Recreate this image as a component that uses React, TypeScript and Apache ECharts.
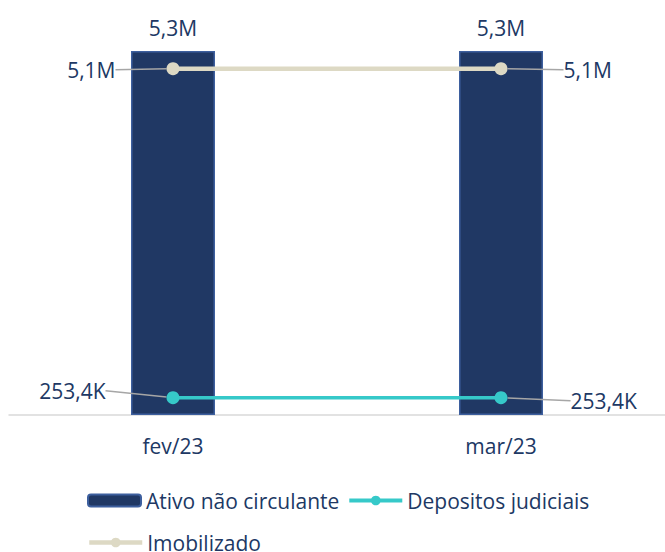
import React, { useEffect, useRef } from "react";
import * as echarts from "echarts";

const categories = ["fev/23", "mar/23"];
const ativoNaoCirculante = [5340000, 5340000];
const depositosJudiciais = [253400, 253400];
const imobilizado = [5080000, 5080000];

const NAVY = "#203864";
const FONT = "'Open Sans', sans-serif";

const fmt = (v: number) => {
  if (Math.abs(v) >= 1e6) return (v / 1e6).toFixed(1).replace(".", ",") + "M";
  if (Math.abs(v) >= 1e3) return (v / 1e3).toFixed(1).replace(".", ",") + "K";
  return String(v);
};

export default function App() {
  const ref = useRef<HTMLDivElement>(null);
  useEffect(() => {
    if (!ref.current) return;
    const chart = echarts.init(ref.current, undefined, { renderer: "svg" });
    const labelText = { color: NAVY, fontFamily: FONT, fontSize: 21 };
    const legendBase = {
      left: 87,
      padding: 0,
      itemWidth: 53,
      itemHeight: 12,
      itemGap: 8,
      textStyle: { ...labelText, lineHeight: 20 },
    };
    chart.setOption({
      animation: false,
      textStyle: { fontFamily: FONT },
      grid: { left: 9, width: 660, top: 51, height: 364, containLabel: false },
      legend: [
        {
          ...legendBase,
          top: 490,
          data: [
            { name: "Ativo não circulante" },
            { name: "Depositos judiciais", lineStyle: { width: 4 }, itemStyle: { color: "#36c9c9" } },
          ],
        },
        {
          ...legendBase,
          top: 532,
          data: [{ name: "Imobilizado", lineStyle: { width: 4.5 }, itemStyle: { color: "#ddd9c4" } }],
        },
      ],
      xAxis: {
        type: "category",
        data: categories,
        axisLine: { lineStyle: { color: "#d9d9d9", width: 1.5 } },
        axisTick: { show: false },
        axisLabel: { ...labelText, margin: 20 },
      },
      yAxis: {
        type: "value",
        min: 0,
        max: 5340000,
        show: false,
        splitLine: { show: false },
      },
      series: [
        {
          name: "Ativo não circulante",
          type: "bar",
          data: ativoNaoCirculante,
          barWidth: 84,
          itemStyle: { color: NAVY, borderColor: "#3d5f9e", borderWidth: 1.5 },
          label: {
            show: true,
            position: "top",
            distance: 13,
            ...labelText,
            formatter: (p: any) => fmt(p.value),
          },
        },
        {
          name: "Depositos judiciais",
          type: "line",
          data: depositosJudiciais.map((v, i) => ({
            value: v,
            label: i === 0 ? { position: "left", padding: [0, 9, 0, 0] } : { position: "right", padding: [0, 0, 0, 9] },
          })),
          symbol: "circle",
          symbolSize: 13,
          z: 3,
          itemStyle: { color: "#36c9c9" },
          lineStyle: { color: "#36c9c9", width: 3.5 },
          label: { show: true, ...labelText, formatter: (p: any) => fmt(p.value) },
          labelLine: { show: true, lineStyle: { color: "#a6a6a6", width: 1.5 } },
          labelLayout: (p: any) => (p.dataIndex === 0 ? { dx: -47, dy: -7 } : { dx: 49, dy: 3 }),
        },
        {
          name: "Imobilizado",
          type: "line",
          data: imobilizado.map((v, i) => ({
            value: v,
            label: i === 0 ? { position: "left", padding: [0, 9, 0, 0] } : { position: "right", padding: [0, 0, 0, 8] },
          })),
          symbol: "circle",
          symbolSize: 13,
          z: 3,
          itemStyle: { color: "#ddd9c4" },
          lineStyle: { color: "#ddd9c4", width: 4.5 },
          label: { show: true, ...labelText, formatter: (p: any) => fmt(p.value) },
          labelLine: { show: true, lineStyle: { color: "#a6a6a6", width: 1.5 } },
          labelLayout: (p: any) => (p.dataIndex === 0 ? { dx: -37, dy: 1 } : { dx: 43, dy: 1 }),
        },
      ],
    });
    return () => chart.dispose();
  }, []);
  return (
    <div
      ref={ref}
      style={{ position: "absolute", left: 0, top: 0, width: 665, height: 552, background: "#fff" }}
    />
  );
}
